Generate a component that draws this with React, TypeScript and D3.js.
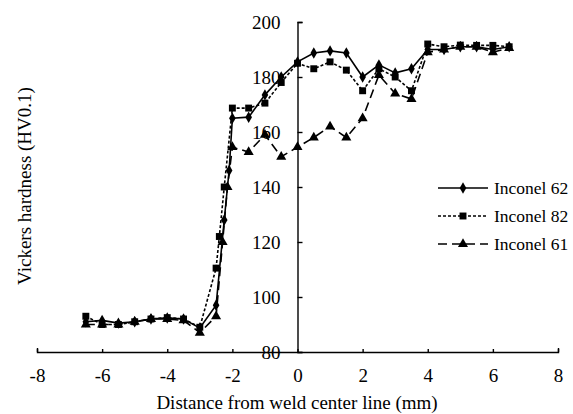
import React, { useEffect, useRef } from 'react';
import * as d3 from 'd3';

const xTicks = [-8, -6, -4, -2, 0, 2, 4, 6, 8];
const yTicks = [80, 100, 120, 140, 160, 180, 200];

const x62 = [-6.5, -6, -5.5, -5, -4.5, -4, -3.5, -3, -2.5, -2.25, -2.1, -2, -1.5, -1, -0.5, 0, 0.5, 1, 1.5, 2, 2.5, 3, 3.5, 4, 4.5, 5, 5.5, 6, 6.5];
const y62 = [91, 91.5, 90.5, 91, 92, 92.4, 92, 88.7, 97, 128, 146, 165, 165.4, 173.5, 180, 185.5, 188.7, 189.5, 188.7, 180, 184.4, 181.5, 183, 190, 190, 191, 191, 190, 191];

const x82 = [-6.5, -6, -5.5, -5, -4.5, -4, -3.5, -3, -2.5, -2.4, -2.25, -2, -1.5, -1, -0.5, 0, 0.5, 1, 1.5, 2, 2.5, 3, 3.5, 4, 4.5, 5, 5.5, 6, 6.5];
const y82 = [93, 90, 90, 91, 92, 92.5, 92, 89, 110.5, 122, 140, 168.7, 168.7, 170.5, 178, 185, 183, 185.5, 182.5, 175, 183, 180, 175, 192, 191, 191.6, 191.5, 191.5, 191];

const x61 = [-6.5, -6, -5.5, -5, -4.5, -4, -3.5, -3, -2.5, -2.3, -2.15, -2, -1.5, -1, -0.5, 0, 0.5, 1, 1.5, 2, 2.5, 3, 3.5, 4, 4.5, 5, 5.5, 6, 6.5];
const y61 = [90, 90, 90, 91, 92, 92, 91.5, 87, 93, 120, 140, 154.5, 152.7, 159, 151, 154.5, 158, 162, 158, 165, 180.7, 174, 172, 189, 190, 191, 191, 189, 190.5];

const seriesNames = ['Inconel 62', 'Inconel 82', 'Inconel 61'];

export default function App() {
  const ref = useRef<SVGSVGElement>(null);

  useEffect(() => {
    const svg = d3.select(ref.current);
    svg.selectAll('*').remove();

    const xScale = d3.scaleLinear().domain([-8, 8]).range([37, 558]);
    const yScale = d3.scaleLinear().domain([80, 200]).range([352, 22]);
    const font = '"Liberation Serif", "DejaVu Serif", "Times New Roman", serif';
    const fs = 19;

    const series = [
      { name: seriesNames[0], xs: x62, ys: y62, dash: null, sym: d3.symbolDiamond, size: 38 },
      { name: seriesNames[1], xs: x82, ys: y82, dash: '3,2', sym: d3.symbolSquare, size: 48 },
      { name: seriesNames[2], xs: x61, ys: y61, dash: '9,5', sym: d3.symbolTriangle, size: 44 },
    ];

    // x axis
    const xAxis = d3.axisBottom(xScale).tickValues(xTicks).tickSizeInner(-3).tickSizeOuter(-4)
      .tickPadding(17).tickFormat(d => String(d));
    const gx = svg.append('g').attr('transform', `translate(0,${yScale(80)})`).call(xAxis);
    gx.selectAll('text').style('font-size', fs + 'px').style('font-family', font).attr('fill', '#000');
    gx.selectAll('line,path').attr('stroke', '#000').attr('stroke-width', 1.4);

    // y axis
    const yAxis = d3.axisLeft(yScale).tickValues(yTicks).tickSizeInner(-5).tickSizeOuter(-5)
      .tickPadding(17).tickFormat(d => String(d));
    const gy = svg.append('g').attr('transform', `translate(${xScale(0)},0)`).call(yAxis);
    gy.selectAll('text').style('font-size', fs + 'px').style('font-family', font).attr('fill', '#000');
    gy.selectAll('line,path').attr('stroke', '#000').attr('stroke-width', 1.4);

    series.forEach(s => {
      const pts = s.xs.map((xv, i) => [xv, s.ys[i]] as [number, number]);
      const line = d3.line<[number, number]>().x(d => xScale(d[0])).y(d => yScale(d[1]));
      svg.append('path').attr('d', line(pts)!).attr('fill', 'none').attr('stroke', '#000')
        .attr('stroke-width', 1.6).attr('stroke-dasharray', s.dash);
      svg.append('g').selectAll('path').data(pts).join('path')
        .attr('d', d3.symbol().type(s.sym).size(s.size)())
        .attr('transform', d => `translate(${xScale(d[0])},${yScale(d[1])})`)
        .attr('fill', '#000');
    });

    // legend
    const leg = svg.append('g');
    series.forEach((s, i) => {
      const ly = 188 + i * 28;
      leg.append('line').attr('x1', 438).attr('x2', 488).attr('y1', ly).attr('y2', ly)
        .attr('stroke', '#000').attr('stroke-width', 1.6).attr('stroke-dasharray', s.dash);
      leg.append('path').attr('d', d3.symbol().type(s.sym).size(s.size)())
        .attr('transform', `translate(463,${ly})`).attr('fill', '#000');
      leg.append('text').attr('x', 494).attr('y', ly + 6).text(s.name)
        .style('font-size', '17.5px').style('font-family', font).attr('fill', '#000');
    });

    // axis titles
    svg.append('text').attr('x', 297).attr('y', 409).attr('text-anchor', 'middle')
      .style('font-size', fs + 'px').style('font-family', font).text('Distance from weld center line (mm)');
    svg.append('text').attr('transform', 'translate(31,186) rotate(-90)').attr('text-anchor', 'middle')
      .style('font-size', fs + 'px').style('font-family', font).text('Vickers hardness (HV0.1)');
  }, []);

  return (
    <div style={{ position: 'absolute', left: 0, top: 0 }}>
      <svg ref={ref} width={573} height={414} style={{ background: '#fff', display: 'block' }} />
    </div>
  );
}
